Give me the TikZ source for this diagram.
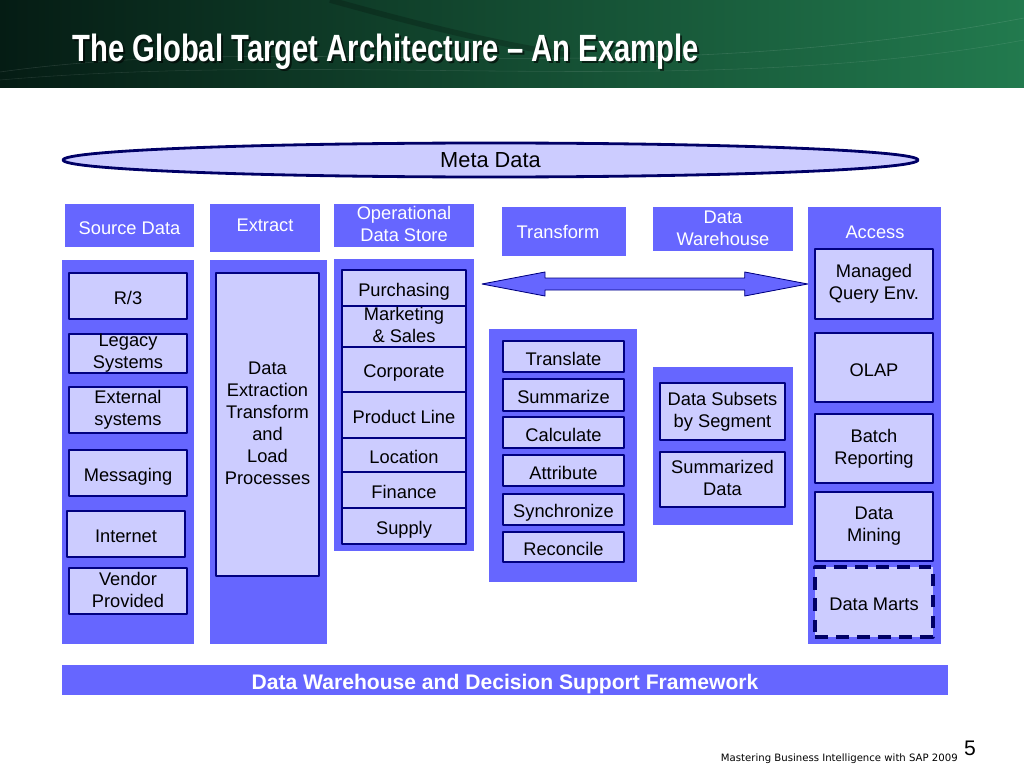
\documentclass[tikz,border=0pt]{standalone}
\usepackage{fontspec}
\usepackage{graphicx}
\setmainfont{Liberation Sans}
\newfontfamily\footfont{DejaVu Sans}
\usetikzlibrary{calc,fit,shapes.geometric}
\definecolor{colblue}{RGB}{102,102,255}
\definecolor{celllav}{RGB}{204,204,255}
\definecolor{cellnavy}{RGB}{0,0,128}
\definecolor{metanavy}{RGB}{0,0,102}
\definecolor{hdrdark}{RGB}{5,28,20}
\definecolor{hdrmid}{RGB}{0,86,58}
\definecolor{hdrlight}{RGB}{34,122,78}
\newcommand\cstrut{\vrule width 0pt height 1.1em depth .13em}

\begin{document}
\begin{tikzpicture}[x=.025cm, y=-.025cm, line join=round, font=\fontsize{13}{15.6}\selectfont,
		colbox/.style={fill=colblue, inner sep=0pt},
		cell/.style={draw=cellnavy, fill=celllav, line width=.8pt, inner sep=0pt},
		marts/.style={draw=metanavy, fill=celllav, line width=2.2pt, dash pattern=on 9pt off 6pt, inner sep=0pt},
		txt/.style={align=center, inner sep=0pt, execute at begin node=\cstrut, execute at end node=\cstrut},
		wtxt/.style={txt, text=white}]
	\def\px{0.025cm}
	\useasboundingbox (0,0) rectangle (1024,768);
	% title band
	\shade [left color=hdrdark, middle color=hdrmid, right color=hdrlight] (0,0) rectangle (1024,88);
	\draw [white, opacity=.12] (0,72) .. controls (300,30) and (620,95) .. (1024,18);
	\draw [white, opacity=.10] (0,80) .. controls (350,50) and (700,100) .. (1024,40);
	\draw [black, opacity=.2, line width=4pt] (330,0) .. controls (420,25) and (500,45) .. (570,55);
	\node [anchor=base west, inner sep=0pt, text=black, opacity=.6, font=\bfseries\fontsize{27}{30}\selectfont] (titleshadow) at (74,64) {\scalebox{.77}[1]{The Global Target Architecture – An Example}};
	\node [anchor=base west, inner sep=0pt, text=white, font=\bfseries\fontsize{27}{30}\selectfont] (title) at (72,62) {\scalebox{.77}[1]{The Global Target Architecture – An Example}};
	% meta data
	\node [ellipse, draw=metanavy, fill=celllav, line width=2pt, inner sep=0pt, minimum width=855*\px, minimum height=34*\px, font=\fontsize{15.5}{18}\selectfont] (meta) at (490.5,160) {Meta Data};
	% column headers
	\node [colbox, fit={(65,204) (194,247)}, label={[wtxt]center:Source Data}] (srchead) {};
	\node [colbox, fit={(210,204) (320,252)}, label={[wtxt, yshift=5*\px]center:Extract}] (exthead) {};
	\node [colbox, fit={(334,204) (474,247)}, label={[wtxt]center:Operational\\Data Store}] (odshead) {};
	\node [colbox, fit={(502,207) (626,256)}, label={[wtxt, xshift=-6*\px, yshift=2*\px]center:Transform}] (trfhead) {};
	\node [colbox, fit={(653,207) (793,251)}, label={[wtxt]center:Data\\Warehouse}] (dwhead) {};
	% columns
	\node [colbox, fit={(62,260) (194,644)}] (srccol) {};
	\node [colbox, fit={(210,260) (327,644)}] (extcol) {};
	\node [colbox, fit={(334,259) (474,551)}] (odscol) {};
	\node [colbox, fit={(489,329) (637,582)}] (trfcol) {};
	\node [colbox, fit={(653,367) (793,525)}] (dwcol) {};
	\node [colbox, fit={(808,207) (941,644)}] (access) {};
	\node [wtxt] (acchead) at (875,230) {Access};
	% source data
	\node [cell, fit={(69,273) (187,319)}, label={[txt]center:R/3}] (r3) {};
	\node [cell, fit={(69,334) (187,373)}, label={[txt]center:Legacy\\Systems}] (legacy) {};
	\node [cell, fit={(69,387) (187,433)}, label={[txt]center:External\\systems}] (external) {};
	\node [cell, fit={(69,450) (187,496)}, label={[txt]center:Messaging}] (messaging) {};
	\node [cell, fit={(67,511) (185,557)}, label={[txt]center:Internet}] (internet) {};
	\node [cell, fit={(69,568) (187,614)}, label={[txt]center:Vendor\\Provided}] (vendor) {};
	% extract
	\node [cell, fit={(216,273) (319,576)}, label={[txt]center:Data\\Extraction\\Transform\\and\\Load\\Processes}] (etl) {};
	% operational data store
	\node [cell, fit={(342,270) (466,306)}, label={[txt]center:Purchasing}] (purch) {};
	\node [cell, fit={(342,306) (466,347)}, label={[txt]center:Marketing\\\& Sales}] (mkt) {};
	\node [cell, fit={(342,347) (466,392)}, label={[txt]center:Corporate}] (corp) {};
	\node [cell, fit={(342,392) (466,438)}, label={[txt]center:Product Line}] (prod) {};
	\node [cell, fit={(342,438) (466,472)}, label={[txt]center:Location}] (loc) {};
	\node [cell, fit={(342,472) (466,508)}, label={[txt]center:Finance}] (fin) {};
	\node [cell, fit={(342,508) (466,544)}, label={[txt]center:Supply}] (supply) {};
	% transform
	\node [cell, fit={(503,341) (624,372)}, label={[txt]center:Translate}] (translate) {};
	\node [cell, fit={(503,379) (624,411)}, label={[txt]center:Summarize}] (summarize) {};
	\node [cell, fit={(503,417) (624,448)}, label={[txt]center:Calculate}] (calculate) {};
	\node [cell, fit={(503,455) (624,486)}, label={[txt]center:Attribute}] (attribute) {};
	\node [cell, fit={(503,494) (624,525)}, label={[txt]center:Synchronize}] (sync) {};
	\node [cell, fit={(503,532) (624,562)}, label={[txt]center:Reconcile}] (reconcile) {};
	% data warehouse
	\node [cell, fit={(660,383) (785,440)}, label={[txt]center:Data Subsets\\by Segment}] (subsets) {};
	\node [cell, fit={(660,452) (785,507)}, label={[txt]center:Summarized\\Data}] (summarized) {};
	% access
	\node [cell, fit={(815,249) (933,319)}, label={[txt]center:Managed\\Query Env.}] (query) {};
	\node [cell, fit={(815,333) (933,402)}, label={[txt]center:OLAP}] (olap) {};
	\node [cell, fit={(815,414) (933,483)}, label={[txt]center:Batch\\Reporting}] (batch) {};
	\node [cell, fit={(815,492) (933,561)}, label={[txt]center:Data\\Mining}] (mining) {};
	\node [marts, fit={(815,567) (933,637)}, label={[txt]center:Data Marts}] (marts) {};
	% double arrow
	\coordinate (arrL) at (482,284);
	\coordinate (arrR) at (access.west |- arrL);
	\filldraw [fill=colblue, draw=cellnavy, line width=.6pt] (arrL) -- ++(63,-12) -- ++(0,6) -- ($(arrR)+(-63,-6)$) -- ++(0,-6) -- (arrR) -- ++(-63,12) -- ++(0,-6) -- ($(arrL)+(63,6)$) -- ++(0,6) -- cycle;
	% framework bar
	\node [colbox, fit={(62,665) (948,695)}, label={[wtxt, font=\bfseries\fontsize{15}{18}\selectfont]center:Data Warehouse and Decision Support Framework}] (frame) {};
	% footer
	\node [anchor=base east, inner sep=0pt, font=\footfont\fontsize{7.2}{8.5}\selectfont] (footer) at (958,761) {Mastering Business Intelligence with SAP 2009};
	\node [inner sep=0pt, font=\fontsize{15}{18}\selectfont] (pagenum) at (970,748) {5};
\end{tikzpicture}
\end{document}
